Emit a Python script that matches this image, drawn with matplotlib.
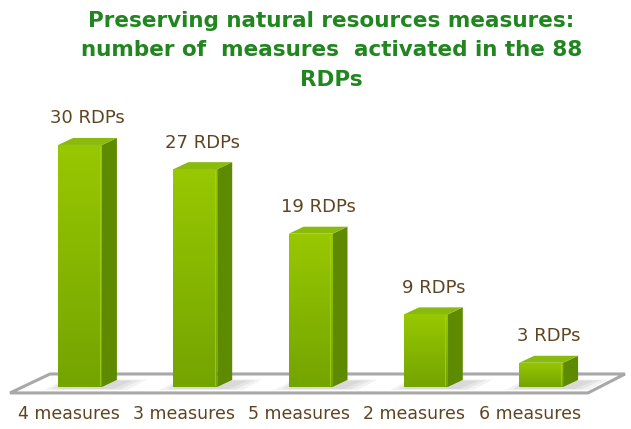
import matplotlib
matplotlib.use("Agg")
import matplotlib.pyplot as plt
import numpy as np
from matplotlib.patches import Polygon

categories = ["4 measures", "3 measures", "5 measures", "2 measures", "6 measures"]
values = [30, 27, 19, 9, 3]
value_labels = ["30 RDPs", "27 RDPs", "19 RDPs", "9 RDPs", "3 RDPs"]
title = "Preserving natural resources measures:\nnumber of  measures  activated in the 88\nRDPs"

label_color = "#5f4421"
title_color = "#21861f"
front_top, front_bottom = "#98c800", "#74a400"
side_color = "#5e8a00"
top_color = "#8abb0c"

fig = plt.figure(figsize=(6.31, 4.29), dpi=100)
ax = fig.add_axes([0, 0, 1, 1])
ax.set_xlim(-0.694, 4.779)
ax.set_ylim(-5.21, 47.97)
ax.axis("off")

width = 0.38
dx, dy = 0.13, 0.87  # fake depth of the 3d boxes

# floor plane
n = len(categories)
floor = Polygon([(-0.607, -0.74), (n - 0.594, -0.74), (n - 0.273, 1.61), (-0.26, 1.61)],
                closed=True, facecolor="white", edgecolor="#a8a8a8", lw=2.2, zorder=1)
ax.add_patch(floor)

grad = np.linspace(1, 0, 100).reshape(-1, 1)
cmap = matplotlib.colors.LinearSegmentedColormap.from_list("g", [front_bottom, front_top])

bars = ax.bar(range(n), values, width=width, color=front_top, zorder=3, lw=0)
for i, (b, v) in enumerate(zip(bars, values)):
    x0 = b.get_x()
    x1 = x0 + b.get_width()
    # soft shadow on the floor
    for k, a in enumerate([0.25, 0.35, 0.5]):
        s = 0.06 * (2 - k)
        sh = Polygon([(x0 - s, -0.25 - s), (x1 + 0.1 + s, -0.25 - s),
                      (x1 + dx + 0.14 + s, 0.8 + s), (x0 + 0.05, 0.8 + s)],
                     closed=True, facecolor="#cfcfcf", edgecolor="none", alpha=a, zorder=2)
        ax.add_patch(sh)
    # gradient on the front face
    im = ax.imshow(grad, extent=(x0, x1, 0, v), cmap=cmap, aspect="auto", zorder=3.5)
    im.set_clip_path(b)
    # thin highlight near the right edge of the front face
    ax.plot([x1 - 0.02, x1 - 0.02], [0.2, v - 0.2], color="#a6d41e", lw=0.8, alpha=0.7, zorder=3.6)
    # side face
    side = Polygon([(x1, 0), (x1 + dx, dy), (x1 + dx, v + dy), (x1, v)],
                   closed=True, facecolor=side_color, edgecolor="none", zorder=3)
    ax.add_patch(side)
    # top face
    top = Polygon([(x0, v), (x1, v), (x1 + dx, v + dy), (x0 + dx, v + dy)],
                  closed=True, facecolor=top_color, edgecolor="none", zorder=3)
    ax.add_patch(top)
    ax.text(i + dx / 2, v + dy + 1.3, value_labels[i], ha="center", va="bottom",
            fontsize=13, color=label_color, zorder=5)
    ax.text(i - 0.1, -3.3, categories[i], ha="center", va="center",
            fontsize=12.5, color=label_color, zorder=5)

fig.text(0.525, 0.975, title, ha="center", va="top", fontsize=15.5, fontweight="bold",
         color=title_color, linespacing=1.6)

fig.savefig("out.png", dpi=100)
